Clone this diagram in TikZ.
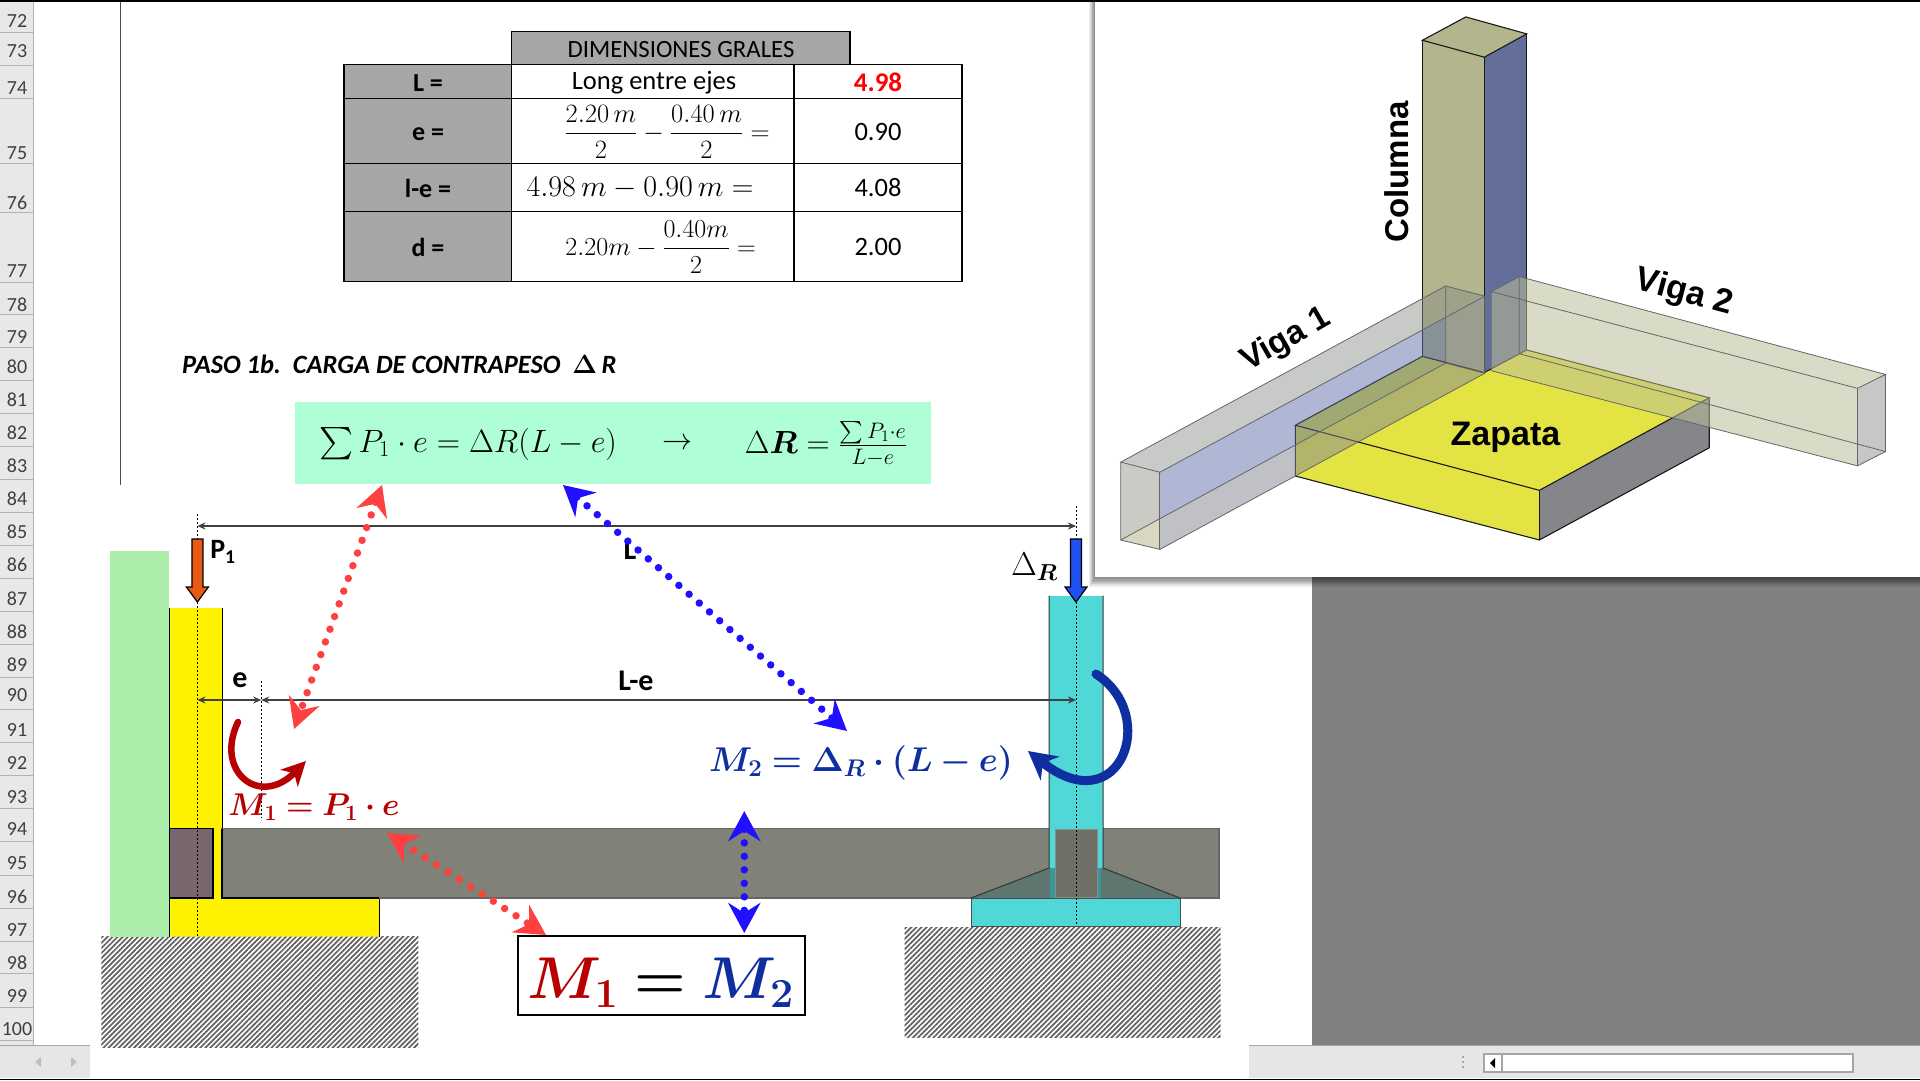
\documentclass[tikz,border=0pt]{standalone}
\usepackage{fix-cm}
\usepackage{amsmath,amssymb,bm}
\usepackage{fontspec}
\setmainfont{Carlito}
\newfontfamily\arialfont{Liberation Sans}
\usepackage{xcolor}
\usepackage{tikz}
\usetikzlibrary{arrows.meta,patterns.meta}

\definecolor{headgrey}{HTML}{A6A6A6}
\definecolor{mintbox}{HTML}{AEFFD6}
\definecolor{sheetgrey}{HTML}{808080}
\definecolor{barfill}{HTML}{E6E6E6}
\definecolor{wallgreen}{HTML}{AAEEAA}
\definecolor{footyellow}{HTML}{FFF200}
\definecolor{beamgrey}{HTML}{808278}
\definecolor{stubpurple}{HTML}{78666E}
\definecolor{stubgrey}{HTML}{6F7166}
\definecolor{hauntgreen}{HTML}{5F7670}
\definecolor{cyanpost}{HTML}{50D8D8}
\definecolor{dotred}{HTML}{FF4040}
\definecolor{dotblue}{HTML}{2010FF}
\definecolor{momred}{HTML}{B80000}
\definecolor{momblue}{HTML}{0F2FA0}
\definecolor{loadorange}{HTML}{E85A14}
\definecolor{loadblue}{HTML}{2050F0}
\definecolor{padyellow}{HTML}{E3E444}
\definecolor{padgrey}{HTML}{84868A}
\definecolor{cololive}{HTML}{B3B68C}
\definecolor{colblue}{HTML}{646E9A}
\definecolor{lensa}{RGB}{187,190,150}
\definecolor{lensb}{RGB}{131,135,147}
\definecolor{lensc}{RGB}{87,104,166}
\definecolor{lensd}{RGB}{135,139,133}
\definecolor{endface}{HTML}{C9CBC4}
\definecolor{endfloor}{HTML}{D8D8C0}

\newcommand{\fs}[1]{\fontsize{#1}{#1}\selectfont}

\tikzset{
  cell/.style={font=\fs{26.5}},
  cellhead/.style={font=\fs{26}\bfseries},
  rowline/.style={draw=black,line width=1.2pt},
  dimline/.style={draw=black!75,line width=1.5pt,{Stealth[length=8pt,width=7pt]}-{Stealth[length=8pt,width=7pt]}},
  dimtext/.style={font=\fs{30}\bfseries,inner sep=0pt},
  axisline/.style={draw=black,line width=1pt,dash pattern=on 2pt off 2pt},
  dotarrow/.style={line width=7.5pt,line cap=round,dash pattern=on 0pt off 13.5pt,
    {Stealth[length=30pt,width=32pt,inset=10pt]}-{Stealth[length=30pt,width=32pt,inset=10pt]}},
  ground/.style={pattern={Lines[angle=45,distance=3.6pt,line width=1.7pt]},pattern color=black!62},
  isoline/.style={draw=black!60,line width=0.8pt},
  padline/.style={draw=black!90,line width=1.1pt},
  isotext/.style={font=\arialfont\bfseries\fs{33}}
}

\begin{document}
\begin{tikzpicture}[x=1pt,y=-1pt]
\useasboundingbox (0,0) rectangle (1920,1080);
\fill[white] (0,0) rectangle (1920,1080);

% Row header
\fill[black!9] (0,0) rectangle (33,1045);
\foreach \num/\yy/\ll in {72/21/32,73/51/65,74/88/98,75/153/163,76/202/212,77/271/282,78/304/314,
  79/337/347,80/366/380,81/399/413,82/432/446,83/465/479,84/498/512,85/531/545,86/564/578,
  87/598/611,88/631/644,89/664/677,90/695/709,91/729/742,92/762/775,93/797/808,94/828/841,
  95/863/875,96/896/908,97/929/941,98/962/973,99/995/1007,100/1029/1040}{
  \node[font=\fs{20},text=black!75,inner sep=0pt] (row\num) at (17,\yy+0.5) {\num};
  \draw[black!30,line width=1pt] (0,\ll) -- (33,\ll);
}
\draw[black!30,line width=1pt] (33,0) -- (33,1045);
\draw[black!70,line width=1pt] (120.7,0) -- (120.7,485);

% Table
\fill[headgrey] (511.5,31.7) rectangle (850,64.7);
\fill[headgrey] (344,64.7) rectangle (511.5,281.7);
\draw[rowline] (511.5,64.7) |- (850,31.7) -- (850,64.7);
\draw[rowline] (344,64.7) rectangle (962,281.7);
\foreach \yy in {98.7,163.3,211.7}{\draw[rowline] (344,\yy) -- (962,\yy);}
\draw[rowline] (511.5,64.7) -- (511.5,281.7);
\draw[rowline] (794,64.7) -- (794,281.7);
\node[font=\fs{24.8}] (tabhead) at (681,50) {DIMENSIONES GRALES};
\node[cellhead] (labL) at (428,82.7) {L =};
\node[cellhead] (labe) at (428,134) {e =};
\node[cellhead] (lable) at (428,188) {l-e =};
\node[cellhead] (labd) at (428,247) {d =};
\node[cell] (txtL) at (654,83) {Long entre ejes};
\node[cell] (frme) at (667,132) {$\displaystyle\frac{2.20\,m}{2}-\frac{0.40\,m}{2}=$};
\node[cell] (frmle) at (640,188) {\fs{30}$4.98\,m-0.90\,m=$};
\node[font=\fs{26}] (frmd) at (660.6,247) {$\displaystyle 2.20m-\frac{0.40m}{2}=$};
\node[font=\fs{27}\bfseries,text=red] (valL) at (878,82) {4.98};
\node[cell] (vale) at (878,132) {0.90};
\node[cell] (valle) at (878,188) {4.08};
\node[cell] (vald) at (878,247) {2.00};

% Step title
\node[font=\fs{26.4}\bfseries\itshape,anchor=west,inner sep=0pt] (pasotitle) at (182,364)
  {PASO 1b.\ \ CARGA DE CONTRAPESO\ \ $\bm{\Delta}$\,R};

% Equation box
\node[fill=mintbox,minimum width=636.4pt,minimum height=82.3pt,inner sep=0pt] (eqbox) at (612.8,442.9) {};
\node[font=\fs{32.3},inner sep=0pt] (eqleft) at (468,444) {$\sum P_1\cdot e=\Delta R(L-e)$};
\node[font=\fs{30},inner sep=0pt] (eqarrow) at (677,444) {$\rightarrow$};
\node[font=\fs{32},inner sep=0pt] (eqright) at (826,444)
  {$\Delta\bm{R}=\frac{\sum P_1\cdot e}{L-e}$};

% Sheet background and scrollbar
\fill[sheetgrey] (1311.6,560) rectangle (1920,1045);
\fill[barfill] (1249,1045) rectangle (1920,1078);
\fill[barfill] (0,1045) rectangle (90,1078);
\draw[black!35,line width=1pt] (1249,1045) -- (1920,1045);
\draw[black!35,line width=1pt] (0,1045) -- (90,1045);
\fill[white,draw=black!35,line width=1.2pt] (1484,1054) rectangle (1853,1072);
\draw[black!35,line width=1.2pt] (1502,1054) -- (1502,1072);
\fill[black] (1495,1058) -- (1495,1068) -- (1490,1063) -- cycle;
\foreach \yy in {1057,1062,1067}{\fill[black!35] (1462,\yy-1) rectangle (1464,\yy+1);}
\fill[black!25] (41,1057) -- (41,1067) -- (35,1062) -- cycle;
\fill[black!25] (71,1057) -- (71,1067) -- (77,1062) -- cycle;
\fill[black] (0,1078.5) rectangle (1920,1080);
\fill[black] (0,0) rectangle (1920,1.5);

% Ground
\path[ground] (101.4,936.6) rectangle (418.4,1047.6);
\path[ground] (904.5,927) rectangle (1220.5,1037);

% Left wall and edge footing
\fill[wallgreen] (110.4,551) rectangle (169.3,936.6);
\fill[footyellow] (169.3,608) -- (222.9,608) -- (222.9,898) -- (379,898) -- (379,936.6) -- (169.3,936.6) -- cycle;
\draw[black,line width=1pt] (169.3,936.6) -- (169.3,608);
\draw[black,line width=1pt] (222.9,608) -- (222.9,828.6);
\draw[black,line width=1pt] (379,898) -- (379,936.6);

% Tie beam
\fill[beamgrey,draw=black!60,line width=1.2pt] (222,828.6) rectangle (1219,898);
\draw[black,line width=1.2pt] (222,828.6) -- (222,898) -- (379,898);
\fill[stubpurple,draw=black,line width=1.2pt] (169.3,828.6) rectangle (213,898);

% Inner footing
\fill[cyanpost] (1049,595.5) rectangle (1103,868);
\fill[hauntgreen] (971,898) -- (1049,868) -- (1103,868) -- (1180,898) -- cycle;
\fill[cyanpost] (1049,828.6) rectangle (1103,868);
\fill[cyanpost!70!black] (1050,868) rectangle (1101,898);
\fill[stubgrey,draw=black!45,line width=0.8pt] (1055,829) rectangle (1097,897);
\fill[cyanpost,draw=black!70,line width=1pt] (971,898) rectangle (1180,926);
\draw[black!80,line width=1pt] (1049,595.5) -- (1049,868) -- (971,898);
\draw[black!80,line width=1pt] (1103,595.5) -- (1103,868) -- (1180,898);

% Axes of the columns
\coordinate (axisLtop) at (197.4,514);
\coordinate (axisLbot) at (197.4,936.6);
\coordinate (axisRtop) at (1076,506);
\coordinate (axisRbot) at (1076,926);
\coordinate (axisEtop) at (261.2,680.6);
\coordinate (axisEbot) at (261.2,818);
\draw[axisline] (axisLtop) -- (axisLbot);
\draw[axisline] (axisRtop) -- (axisRbot);
\draw[axisline] (axisEtop) -- (axisEbot);

% Dimensions
\coordinate (dimLa) at (197.4,526);
\coordinate (dimLb) at (1076,526);
\coordinate (dimEa) at (197.4,700);
\coordinate (dimEb) at (261.2,700);
\coordinate (dimEc) at (1076,700);
\draw[dimline] (dimLa) -- (dimLb);
\draw[dimline] (dimEa) -- (dimEb);
\draw[dimline] (dimEb) -- (dimEc);
\node[dimtext] (dimLtxt) at (630,550) {L};
\node[dimtext] (dimEtxt) at (240,680.6) {e};
\node[dimtext] (dimLEtxt) at (636,681) {L-e};

% Loads
\foreach \xx/\col in {197.4/loadorange,1076/loadblue}{
  \draw[fill=\col,line width=1.2pt] (\xx-5.5,539) -- (\xx+5.5,539) -- (\xx+5.5,587) -- (\xx+11,587)
    -- (\xx,602) -- (\xx-11,587) -- (\xx-5.5,587) -- cycle;
}
\node[font=\fs{28}\bfseries,inner sep=0pt] (loadP) at (223,552) {P\textsubscript{1}};
\node[font=\fs{33},inner sep=0pt] (loadR) at (1034.5,567) {$\Delta_{\bm{R}}$};

% Moments
\draw[momred,line width=6.5pt,line cap=round,-{Stealth[length=24pt,width=24pt,inset=7pt]}]
  (238,722) .. controls (214,772) and (260,808) .. (306,761);
\draw[momblue,line width=9pt,line cap=round,-{Stealth[length=28pt,width=30pt,inset=9pt]}]
  (1096,674) .. controls (1160,715) and (1120,824) .. (1028,751);
\node[font=\fs{31.5},text=momred,inner sep=0pt] (momleft) at (314,807)
  {$\bm{M}_{\bm{1}}\bm{=}\bm{P}_{\bm{1}}\bm{\cdot}\bm{e}$};
\node[font=\fs{34.4},text=momblue,inner sep=0pt] (momright) at (861,763)
  {$\bm{M}_{\bm{2}}\bm{=}\bm{\Delta}_{\bm{R}}\bm{\cdot}\bm{(}\bm{L}\bm{-}\bm{e}\bm{)}$};

% Equality box
\node[draw=black,line width=2.5pt,fill=white,minimum width=287pt,minimum height=79pt,inner sep=0pt] (eqmom) at (661.5,975.5) {};
\node[font=\fs{59},inner sep=0pt] (eqmomtxt) at (660.6,983)
  {$\textcolor{momred}{\bm{M}_{\bm{1}}}\bm{=}\textcolor{momblue}{\bm{M}_{\bm{2}}}$};

% Dotted links
\coordinate (redAa) at (382,485);
\coordinate (redAb) at (294,729);
\coordinate (redBa) at (387,833);
\coordinate (redBb) at (546,935);
\coordinate (bluAa) at (563,485);
\coordinate (bluAb) at (847,731);
\coordinate (bluBa) at (744.3,811);
\coordinate (bluBb) at (744.3,933);
\draw[dotarrow,dotred] (redAa) -- (redAb);
\draw[dotarrow,dotred] (redBa) -- (redBb);
\draw[dotarrow,dotblue] (bluAa) -- (bluAb);
\draw[dotarrow,dotblue] (bluBa) -- (bluBb);

% Inset: shadow and sheet
\foreach \k in {1,...,8}{
  \fill[black,opacity=0.07] (1095-0.7*\k,0) rectangle (1920,577+1.2*\k);
}
\fill[white] (1095,1.5) rectangle (1920,577);

\begin{scope}[shift={(1090,0)},x=0.5293pt,y=-0.3763pt]
% Zapata
\fill[padyellow] (388,1130) -- (707,887) -- (1170,1057) -- (849,1303) -- cycle;
\fill[padyellow] (388,1130) -- (849,1303) -- (849,1435) -- (388,1265) -- cycle;
\fill[padgrey] (849,1303) -- (1170,1057) -- (1170,1190) -- (849,1435) -- cycle;
% Columna
\fill[cololive] (628,107) -- (745,152) -- (745,990) -- (628,947) -- cycle;
\fill[colblue] (745,152) -- (825,90) -- (825,930) -- (745,990) -- cycle;
\fill[cololive] (628,107) -- (710,45) -- (825,90) -- (745,152) -- cycle;
\draw[padline] (628,107) -- (710,45) -- (825,90) -- (745,152) -- cycle;
\draw[padline] (628,107) -- (628,947);
\draw[padline] (745,152) -- (745,990);
\draw[padline] (825,90) -- (825,930);
\draw[padline] (628,947) -- (745,990) -- (825,930);
% Zapata edges
\draw[padline] (628,947) -- (388,1130) -- (849,1303) -- (1170,1057) -- (825,930);
\draw[padline] (388,1130) -- (388,1265) -- (849,1435) -- (1170,1190) -- (1170,1057);
\draw[padline] (849,1303) -- (849,1435);
% Viga 2
\fill[lensa,fill opacity=0.54] (758,775) -- (811,735) -- (1503,995) -- (1450,1032) -- (1450,1238) -- (758,985) -- cycle;
\fill[black!22] (1450,1032) -- (1503,995) -- (1503,1200) -- (1450,1238) -- cycle;
\draw[isoline] (758,775) -- (811,735) -- (1503,995) -- (1450,1032) -- cycle;
\draw[isoline] (811,735) -- (811,940) -- (1503,1200) -- (1503,995);
\draw[isoline] (758,775) -- (758,985) -- (1450,1238) -- (1503,1200);
\draw[isoline] (1450,1032) -- (1450,1238);
% Viga 1
\fill[endface] (58,1228) -- (132,1255) -- (132,1460) -- (58,1435) -- cycle;
\fill[endfloor] (58,1435) -- (132,1378.5) -- (132,1460) -- cycle;
\fill[lensd,fill opacity=0.45] (58,1228) -- (672,760) -- (746,787) -- (132,1255) -- cycle;
\fill[lensc,fill opacity=0.47] (132,1255) -- (672,843) -- (672,965) -- (132,1378.5) -- cycle;
\fill[lensb,fill opacity=0.51] (672,843) -- (746,787) -- (746,992) -- (132,1460) -- (132,1378.5) -- (672,965) -- cycle;
\draw[isoline] (58,1228) -- (672,760) -- (746,787) -- (132,1255) -- cycle;
\draw[isoline] (58,1228) -- (58,1435) -- (132,1460) -- (746,992) -- (746,787);
\draw[isoline] (132,1255) -- (132,1460);
\draw[isoline] (672,760) -- (672,965) -- (58,1435);
\draw[isoline] (672,965) -- (746,992);
\end{scope}

% Inset labels
\node[isotext,rotate=90,inner sep=0pt] (lblcol) at (1397,172) {Columna};
\node[isotext,rotate=30,inner sep=0pt,font=\arialfont\bfseries\fs{33}] (lblvuno) at (1286,340) {Viga 1};
\node[isotext,rotate=-15,inner sep=0pt,font=\arialfont\bfseries\fs{34}] (lblvdos) at (1684,293) {Viga 2};
\node[isotext,inner sep=0pt,font=\arialfont\bfseries\fs{34}] (lblzap) at (1505.5,437) {Zapata};
\end{tikzpicture}
\end{document}
